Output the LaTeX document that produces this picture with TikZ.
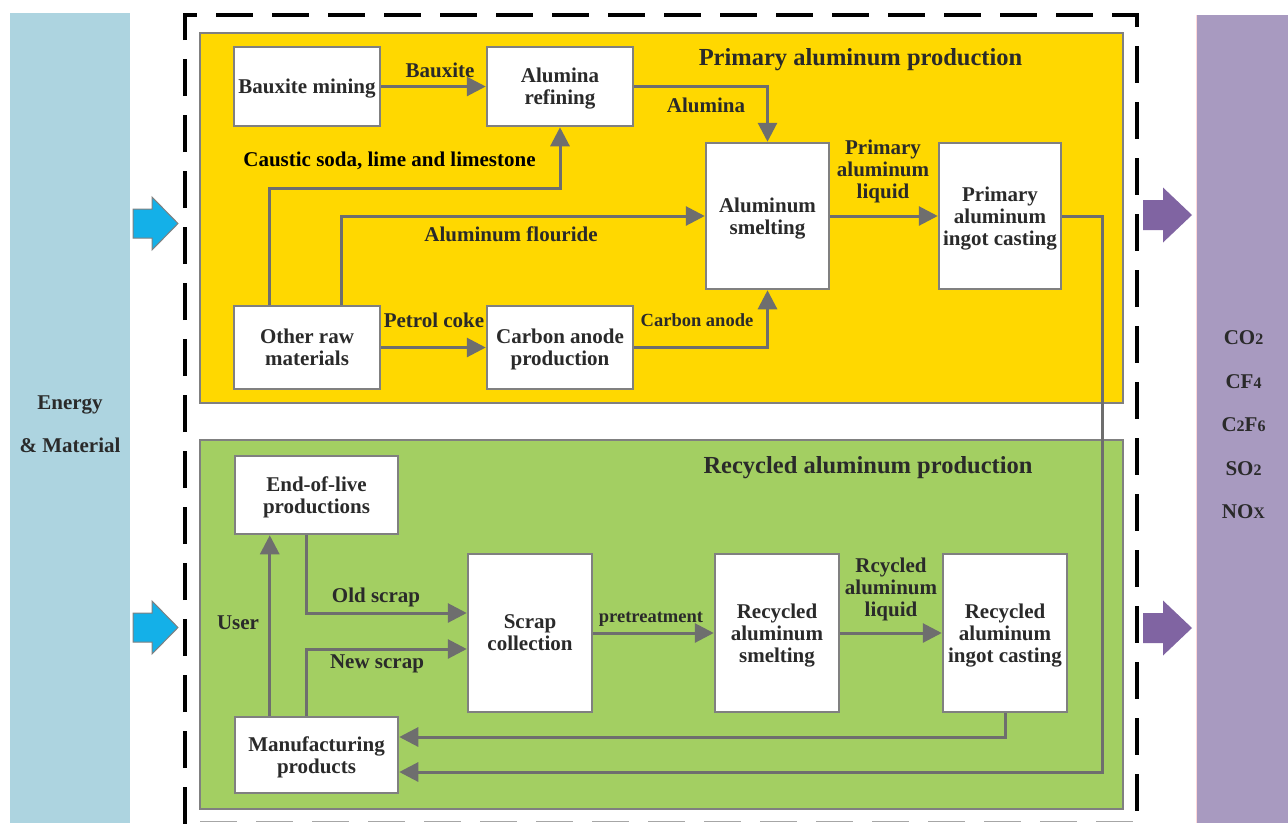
\documentclass[tikz,border=0pt]{standalone}
\usepackage{fontspec}
\setmainfont{Liberation Serif}
\usetikzlibrary{arrows.meta}
\definecolor{panelblue}{HTML}{ADD4E0}
\definecolor{panelpurple}{HTML}{A89AC0}
\definecolor{yel}{HTML}{FFD800}
\definecolor{grn}{HTML}{A3CF62}
\definecolor{bluearr}{HTML}{14B0E8}
\definecolor{purparr}{HTML}{8064A2}
\definecolor{linegray}{HTML}{6E6E6E}
\definecolor{boxgray}{HTML}{808080}
\definecolor{txt}{HTML}{2A2A2A}
\tikzset{
  procbox/.style={draw=boxgray, line width=2.5pt, fill=white, inner sep=0pt, align=center,
    text=txt, text depth=0pt, font=\fontsize{21}{22}\selectfont\bfseries},
  lbl/.style={inner sep=0pt, align=center, text=txt, text depth=0pt, font=\fontsize{21}{22}\selectfont\bfseries},
  slbl/.style={inner sep=0pt, align=center, text=txt, text depth=0pt, font=\fontsize{18.5}{20}\selectfont\bfseries},
  ttl/.style={inner sep=0pt, text=txt, text depth=0pt, font=\fontsize{24.5}{26}\selectfont\bfseries},
  flow/.style={draw=linegray, line width=3pt, -{Triangle[length=19pt,width=19pt]}},
  region/.style={draw=boxgray, line width=2.5pt}
}
\newcommand{\sbs}[1]{{\fontsize{16}{16}\selectfont #1}}
\begin{document}
\begin{tikzpicture}[x=1pt,y=-1pt]
\useasboundingbox (0,0) rectangle (1288,823);
\fill[white] (0,0) rectangle (1288,823);
% side panels
\fill[panelblue] (10,13) rectangle (130,823);
\fill[panelpurple] (1196,15) rectangle (1288,823);
\draw[draw=pink!60, line width=1pt] (1196,15) -- (1196,823);
\node[lbl] (energy) at (70,424.5) {Energy\\[21pt]\& Material};
\node[lbl, align=center] (gases) at (1243.5,425) {CO\sbs{2}\\[21.5pt]CF\sbs{4}\\[21.5pt]C\sbs{2}F\sbs{6}\\[21.5pt]SO\sbs{2}\\[21.5pt]NO\sbs{X}};
% dashed boundary
\draw[black, line width=4pt, dash pattern=on 37pt off 19pt] (185,824) -- (185,15) -- (1137,15) -- (1137,824);
\draw[black!35, line width=1.2pt, dash pattern=on 37pt off 19pt] (200,821.5) -- (1137,821.5);
% regions
\draw[region, fill=yel] (200,33) rectangle (1123,403);
\draw[region, fill=grn] (200,440) rectangle (1123,809);
\node[ttl] (t1) at (860.5,57) {Primary aluminum production};
\node[ttl] (t2) at (868,465) {Recycled aluminum production};
% block arrows
\foreach \cy in {223.5,627.5}{
  \draw[fill=bluearr, draw=boxgray, line width=1pt] (133,\cy-14.5) -- (152,\cy-14.5) -- (152,\cy-26.5) -- (178,\cy) -- (152,\cy+26.5) -- (152,\cy+14.5) -- (133,\cy+14.5) -- cycle;
}
\foreach \cy in {215,628}{
  \fill[purparr] (1143,\cy-15) -- (1163,\cy-15) -- (1163,\cy-27.5) -- (1192,\cy) -- (1163,\cy+27.5) -- (1163,\cy+15) -- (1143,\cy+15) -- cycle;
}
% primary boxes
\node[procbox, minimum width=146pt, minimum height=79pt] (bm) at (307,86.5) {Bauxite mining};
\node[procbox, minimum width=146pt, minimum height=79pt] (ar) at (560,86.5) {Alumina\\refining};
\node[procbox, minimum width=123pt, minimum height=146pt] (as) at (767.5,216) {Aluminum\\smelting};
\node[procbox, minimum width=122pt, minimum height=146pt] (pic) at (1000,216) {Primary\\aluminum\\ingot casting};
\node[procbox, minimum width=146pt, minimum height=83pt] (orm) at (307,347.5) {Other raw\\materials};
\node[procbox, minimum width=146pt, minimum height=83pt] (cap) at (560,347.5) {Carbon anode\\production};
% recycled boxes
\node[procbox, minimum width=163pt, minimum height=78pt] (eol) at (316.5,495) {End-of-live\\productions};
\node[procbox, minimum width=124pt, minimum height=158pt] (sc) at (530,633) {Scrap\\collection};
\node[procbox, minimum width=163pt, minimum height=76pt] (mp) at (316.5,755) {Manufacturing\\products};
\node[procbox, minimum width=124pt, minimum height=158pt] (ras) at (777,633) {Recycled\\aluminum\\smelting};
\node[procbox, minimum width=124pt, minimum height=158pt] (ric) at (1005,633) {Recycled\\aluminum\\ingot casting};
% primary connectors
\draw[flow] (bm.east) -- (ar.west);
\draw[flow] (ar.east) -| (as.north);
\draw[flow] ([xshift=37pt]orm.north west) |- ([yshift=-61pt]ar.south) -- (ar.south);
\draw[flow] ([xshift=109pt]orm.north west) |- (as.west);
\draw[flow] (orm.east) -- (cap.west);
\draw[flow] (cap.east) -| (as.south);
\draw[flow] (as.east) -- (pic.west);
\coordinate (turn) at (1102,216);
\draw[flow] (pic.east) -- (turn) |- ([yshift=-17pt]mp.east);
% recycled connectors
\draw[flow] (ric.south) |- ([yshift=18pt]mp.east);
\draw[flow] ([xshift=36pt]mp.north west) -- ([xshift=36pt]eol.south west);
\draw[flow] ([xshift=73pt]eol.south west) |- ([yshift=20pt]sc.west);
\draw[flow] ([xshift=73pt]mp.north west) |- ([yshift=-16pt]sc.west);
\draw[flow] (sc.east) -- (ras.west);
\draw[flow] (ras.east) -- (ric.west);
% labels
\node[lbl] (lbaux) at (440,70) {Bauxite};
\node[lbl] (lalu) at (706,105) {Alumina};
\node[lbl, text=black] (lcaus) at (389.5,159) {Caustic soda, lime and limestone};
\node[lbl] (lfl) at (511,234) {Aluminum flouride};
\node[lbl] (lpet) at (434,320) {Petrol coke};
\node[slbl] (lcan) at (697,320) {Carbon anode};
\node[lbl] (lpal) at (883,169) {Primary\\aluminum\\liquid};
\node[lbl] (luser) at (238,623) {User};
\node[lbl] (lold) at (376,595) {Old scrap};
\node[lbl] (lnew) at (377,662) {New scrap};
\node[slbl] (lpre) at (651,617) {pretreatment};
\node[lbl] (lral) at (891,587) {Rcycled\\aluminum\\liquid};
\end{tikzpicture}
\end{document}
